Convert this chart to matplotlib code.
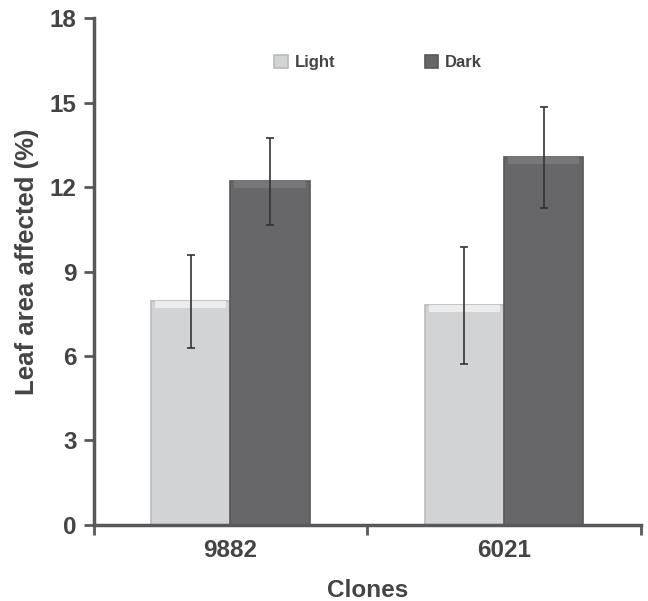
import matplotlib
matplotlib.use("Agg")
import matplotlib.pyplot as plt
import numpy as np

clones = ["9882", "6021"]
light = [7.95, 7.8]
dark = [12.2, 13.05]
light_err = [1.65, 2.08]
dark_err = [1.55, 1.78]
yticks = [0, 3, 6, 9, 12, 15, 18]

plt.rcParams['font.family'] = ['Liberation Sans', 'DejaVu Sans']
txt = '#444444'
spine = '#58585a'
fs = 17.5

fig = plt.figure(figsize=(6.48, 6.01), dpi=100)
ax = fig.add_axes([0.1443, 0.1265, 0.8447, 0.8435])

x = np.arange(len(clones))
w = 0.29
ax.bar(x - w/2, light, w, color='#d2d3d5', edgecolor='#b9babc', linewidth=1.2,
       label='Light', zorder=2)
ax.bar(x + w/2, dark, w, color='#67676a', edgecolor='#58585b', linewidth=1.2,
       label='Dark', zorder=2)
# bevel highlight along the top of each bar
bev = 0.25
ax.bar(x - w/2, [bev] * len(light), w * 0.9, bottom=np.array(light) - bev,
       color='#ececed', linewidth=0, zorder=2.5)
ax.bar(x + w/2, [bev] * len(dark), w * 0.9, bottom=np.array(dark) - bev,
       color='#77777a', linewidth=0, zorder=2.5)
ax.errorbar(x - w/2, light, yerr=light_err, fmt='none', ecolor='#333333',
            elinewidth=1.2, capsize=3, capthick=1.2, zorder=3)
ax.errorbar(x + w/2, dark, yerr=dark_err, fmt='none', ecolor='#333333',
            elinewidth=1.2, capsize=3, capthick=1.2, zorder=3)

ax.set_xlim(-0.5, 1.5)
ax.set_ylim(0, 18)
ax.set_yticks(yticks)
ax.set_yticklabels([str(t) for t in yticks])
ax.set_xticks([-0.5, 0.5, 1.5], minor=False)
ax.set_xticklabels([])
ax.set_xticks(x, minor=True)
ax.set_xticklabels(clones, minor=True)
ax.tick_params(axis='x', which='minor', length=0, pad=10)
ax.tick_params(axis='x', which='major', length=7, width=2, color=spine, direction='out')
ax.tick_params(axis='y', length=7, width=2, color=spine, direction='out', pad=5)

for lab in ax.get_yticklabels() + ax.get_xticklabels(minor=True):
    lab.set_fontsize(fs)
    lab.set_fontweight('bold')
    lab.set_color(txt)

for s in ['top', 'right']:
    ax.spines[s].set_visible(False)
for s in ['left', 'bottom']:
    ax.spines[s].set_color(spine)
    ax.spines[s].set_linewidth(2.5)

ax.set_ylabel('Leaf area affected (%)', fontsize=18.5, fontweight='bold', color=txt)
ax.yaxis.set_label_coords(-0.100, 0.52)
ax.set_xlabel('Clones', fontsize=fs, fontweight='bold', color=txt, labelpad=12)

leg = ax.legend(loc='center', bbox_to_anchor=(0.52, 0.912), ncol=2, frameon=False,
                handlelength=0.8, handleheight=0.8, handletextpad=0.4, columnspacing=5.4,
                prop={'weight': 'bold', 'size': 12})
for t in leg.get_texts():
    t.set_color(txt)

fig.savefig('out.png', dpi=100)
